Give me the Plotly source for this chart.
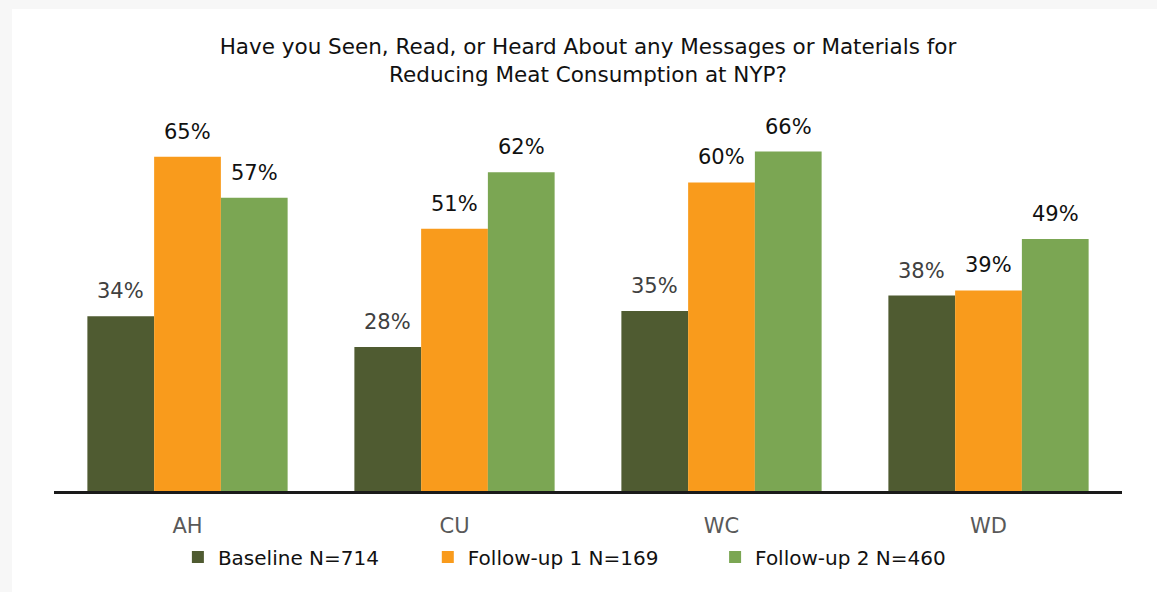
import plotly.graph_objects as go

categories = ["AH", "CU", "WC", "WD"]
series_names = ["Baseline N=714", "Follow-up 1 N=169", "Follow-up 2 N=460"]
baseline = [34, 28, 35, 38]
follow_up_1 = [65, 51, 60, 39]
follow_up_2 = [57, 62, 66, 49]
title_lines = ["Have you Seen, Read, or Heard About any Messages or Materials for",
               "Reducing Meat Consumption at NYP?"]

series_values = [baseline, follow_up_1, follow_up_2]
colors = ["#4F5B31", "#F99B1C", "#7BA653"]
label_colors = ["#404040", "#111111", "#111111"]

W, H = 1157, 592
ML, MR, MT, MB = 54, 35, 131, 101
plot_w = W - ML - MR
bargap = 0.25
bar_px = plot_w / len(categories) * (1 - bargap) / len(series_values)

FONT = "DejaVu Sans"

fig = go.Figure()
legend_x = [0.116, 0.350, 0.619]
for i, (name, vals, col) in enumerate(zip(series_names, series_values, colors)):
    lg = "legend" if i == 0 else f"legend{i+1}"
    fig.add_trace(go.Bar(
        x=categories, y=vals, name=name, marker=dict(color=col, line=dict(width=0)),
        legend=lg, hoverinfo="x+y",
    ))
    for c, v in zip(categories, vals):
        fig.add_annotation(
            x=c, y=v, text=f"{v}%", showarrow=False, xref="x", yref="y",
            xshift=(i - 1) * bar_px, yshift=25, yanchor="middle",
            font=dict(family=FONT, size=21, color=label_colors[i]),
        )

legend_common = dict(orientation="h", yanchor="middle", xanchor="left", y=-0.183,
                     font=dict(family=FONT, size=20, color="#111111"),
                     bgcolor="rgba(0,0,0,0)", itemwidth=30)
layout_legends = {}
for i in range(3):
    key = "legend" if i == 0 else f"legend{i+1}"
    layout_legends[key] = dict(legend_common, x=legend_x[i])

fig.update_layout(
    width=W, height=H,
    margin=dict(l=ML, r=MR, t=MT, b=MB),
    paper_bgcolor="white", plot_bgcolor="white",
    barmode="group", bargap=bargap, bargroupgap=0,
    showlegend=True,
    title=dict(text="<br>".join(title_lines), x=0.5, xanchor="center", xref="paper",
               y=1 - 54 / H, yanchor="middle",
               font=dict(family=FONT, size=21.5, color="#111111")),
    xaxis=dict(showline=True, linecolor="#1a1a1a", linewidth=2.5, ticks="",
               showgrid=False, zeroline=False, ticklabelstandoff=14,
               tickfont=dict(family=FONT, size=21, color="#595959")),
    yaxis=dict(range=[0, 70], showgrid=False, zeroline=False, showticklabels=False,
               showline=False),
    **layout_legends,
)

# light gray outer strips (page background around the white card)
fig.add_shape(type="rect", xref="paper", yref="paper",
              x0=-ML / plot_w, x1=(W - ML) / plot_w,
              y0=1 + (MT - 9) / (H - MT - MB), y1=1 + MT / (H - MT - MB),
              fillcolor="#F7F7F7", line=dict(width=0), layer="below")
fig.add_shape(type="rect", xref="paper", yref="paper",
              x0=-ML / plot_w, x1=(12 - ML) / plot_w,
              y0=-MB / (H - MT - MB), y1=1 + MT / (H - MT - MB),
              fillcolor="#F7F7F7", line=dict(width=0), layer="below")

fig.write_html("out.html", config={"displayModeBar": False},
               post_script="document.body.style.margin='0';document.body.style.overflow='hidden';")
